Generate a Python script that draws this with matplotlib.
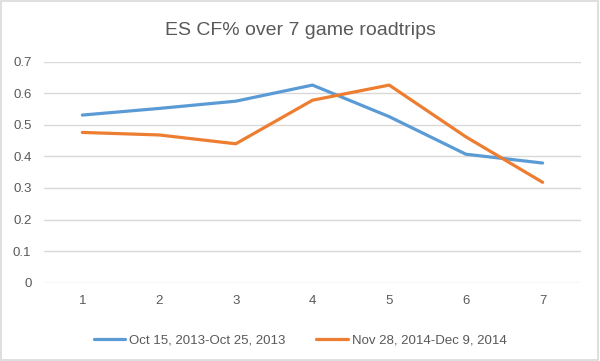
import numpy as np
import matplotlib.pyplot as plt
from matplotlib.patches import Rectangle

# Datos
games = [1, 2, 3, 4, 5, 6, 7]
trip_2013 = [0.531, 0.552, 0.575, 0.626, 0.526, 0.407, 0.379]
trip_2014 = [0.476, 0.468, 0.440, 0.578, 0.626, 0.462, 0.318]
labels = ['Oct 15, 2013-Oct 25, 2013', 'Nov 28, 2014-Dec 9, 2014']
yticks = [0, 0.1, 0.2, 0.3, 0.4, 0.5, 0.6, 0.7]

plt.rcParams['font.family'] = ['Liberation Sans', 'DejaVu Sans']
text_color = '#595959'

fig = plt.figure(figsize=(6, 3.61), dpi=100)
ax = fig.add_axes([0.0733, 0.217, 0.895, 0.612])

ax.plot(games, trip_2013, color='#5B9BD5', linewidth=2.3, label=labels[0], solid_capstyle='round')
ax.plot(games, trip_2014, color='#ED7D31', linewidth=2.3, label=labels[1], solid_capstyle='round')

ax.set_xlim(0.5, 7.5)
ax.set_ylim(0, 0.7)
ax.set_xticks(games)
ax.set_yticks(yticks)
ax.set_yticklabels(['0' if v == 0 else f'{v:.1f}' for v in yticks])
ax.tick_params(length=0, colors=text_color, labelsize=9.5)
ax.tick_params(axis='x', pad=9)
ax.tick_params(axis='y', pad=9)
ax.grid(axis='y', color='#D9D9D9', linewidth=1)
ax.set_axisbelow(True)
for s in ax.spines.values():
    s.set_visible(False)

fig.suptitle('ES CF% over 7 game roadtrips', y=0.94, fontsize=14, color=text_color)

fig.legend(loc='center', bbox_to_anchor=(0.5, 0.058), ncol=2, frameon=False,
           fontsize=9.5, labelcolor=text_color, handlelength=2.4, columnspacing=2.3,
           handletextpad=0.3)

# borde del grafico
fig.patches.append(Rectangle((0.002, 0.003), 0.995, 0.993, transform=fig.transFigure,
                             fill=False, edgecolor='#D9D9D9', linewidth=1.2))

fig.savefig('out.png', dpi=100)
